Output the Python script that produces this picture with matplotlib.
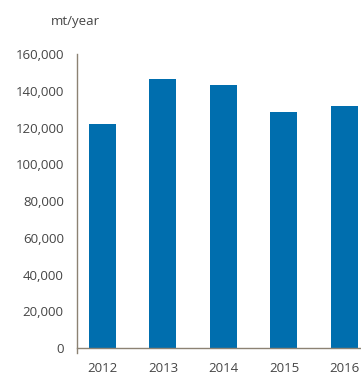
import matplotlib
matplotlib.use("Agg")
import matplotlib.pyplot as plt
from matplotlib.ticker import FuncFormatter

years = ["2012", "2013", "2014", "2015", "2016"]
values = [122000, 146500, 143200, 128500, 131800]
yticks = [0, 20000, 40000, 60000, 80000, 100000, 120000, 140000, 160000]

plt.rcParams['font.family'] = ['Open Sans', 'DejaVu Sans']
text_color = "#454545"
axis_color = "#8c8273"
bar_color = "#006eae"

fig = plt.figure(figsize=(3.61, 3.72), dpi=100)
ax = fig.add_axes([77/361, 24/372, 284/361, 294/372])
x = list(range(len(years)))
ax.bar(x, values, width=0.446, color=bar_color)
ax.set_xlim(-0.421, 4.273)
ax.set_ylim(0, 160000)
ax.set_yticks(yticks)
ax.yaxis.set_major_formatter(FuncFormatter(lambda v, p: f"{int(v):,}"))
ax.set_xticks(x)
ax.set_xticklabels(years)
for s in ["top", "right"]:
    ax.spines[s].set_visible(False)
for s in ["left", "bottom"]:
    ax.spines[s].set_color(axis_color)
    ax.spines[s].set_linewidth(1.0)
ax.spines['left'].set_bounds(-2500, 160000)
ax.tick_params(axis="y", length=0, pad=9.5, labelsize=9.5, labelcolor=text_color)
ax.tick_params(axis="x", length=0, pad=10, labelsize=9.5, labelcolor=text_color)
fig.text(75/361, 1 - 21/372, "mt/year", ha="center", va="center", fontsize=9.5, color=text_color)
fig.savefig("out.png", dpi=100)
